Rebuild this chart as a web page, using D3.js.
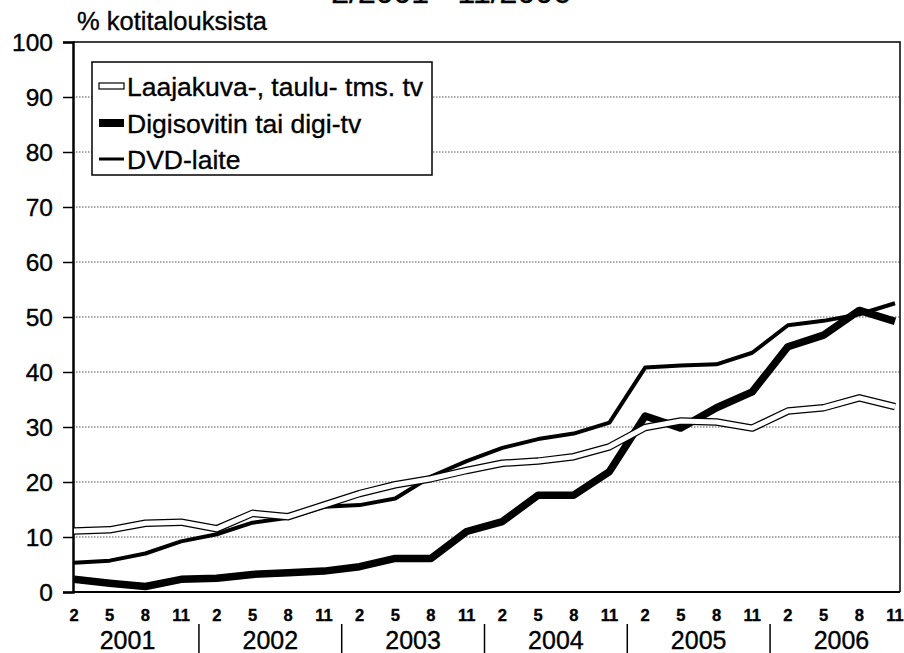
<!DOCTYPE html>
<html><head><meta charset="utf-8">
<script src="https://cdn.jsdelivr.net/npm/d3@7"></script>
<style>body{margin:0;background:#fff}svg{display:block}text{font-family:Arial,"Liberation Sans",sans-serif;fill:#000;stroke:#000;stroke-width:0.35px}</style>
</head><body>
<svg id="c" width="904" height="653"></svg>
<script>
const months = ["2","5","8","11"];
const years = ["2001","2002","2003","2004","2005","2006"];
const yTicks = [0,10,20,30,40,50,60,70,80,90,100];
const seriesNames = ["Laajakuva-, taulu- tms. tv","Digisovitin tai digi-tv","DVD-laite"];
const laajakuva = [11.1,11.3,12.5,12.7,11.5,14.3,13.7,15.8,17.9,19.5,20.6,22.1,23.4,23.8,24.6,26.4,29.9,31.1,30.9,29.8,32.9,33.5,35.3,33.7];
const digi = [2.3,1.6,1.0,2.3,2.5,3.2,3.5,3.8,4.6,6.1,6.1,11.0,12.8,17.6,17.6,21.9,32.0,29.8,33.5,36.4,44.6,46.7,51.2,49.2];
const dvd = [5.3,5.7,7.0,9.2,10.5,12.6,13.5,15.5,15.8,17.0,21.0,23.8,26.2,27.8,28.8,30.8,40.8,41.2,41.4,43.5,48.5,49.3,50.5,52.5];
const title = "2/2001 - 11/2006";
const yLabel = "% kotitalouksista";

const labels = [];
years.forEach(y => months.forEach(m => labels.push(m)));

const svg = d3.select("#c");
const L = 73, R = 900, T = 42, B = 592;
const x = d3.scaleLinear().domain([0, labels.length - 1]).range([74, 895]);
const y = d3.scaleLinear().domain([0, 100]).range([B, T]);

// title (cut off at top, as in the reference)
svg.append("text").attr("x", 451).attr("y", 3).attr("text-anchor", "middle")
  .style("font-size", "32px").text(title);
svg.append("text").attr("x", 77).attr("y", 30).style("font-size", "25.5px").text(yLabel);

// gridlines
svg.append("g").selectAll("line").data(yTicks.filter(d => d > 0 && d < 100)).join("line")
  .attr("x1", L).attr("x2", R).attr("y1", d => y(d)).attr("y2", d => y(d))
  .attr("stroke", "#555").attr("stroke-width", 1).attr("stroke-dasharray", "1.5,1.5");

// frame
svg.append("path").attr("d", `M${L},${T}H${R}V${B}`).attr("fill", "none").attr("stroke", "#000").attr("stroke-width", 1.5);

// y axis
const ya = svg.append("g").attr("transform", `translate(${L},0)`)
  .call(d3.axisLeft(y).tickValues(yTicks).tickSize(10).tickPadding(10));
ya.select(".domain").attr("stroke-width", 2.5);
ya.selectAll(".tick line").attr("stroke-width", 1.5);
ya.selectAll(".tick text").style("font-size", "24.5px").attr("font-family", null).attr("dy", "0.36em");

// x axis
svg.append("line").attr("x1", L).attr("x2", R).attr("y1", B).attr("y2", B).attr("stroke", "#000").attr("stroke-width", 2);
svg.append("g").selectAll("text").data(labels).join("text")
  .attr("x", (d, i) => x(i)).attr("y", 621).attr("text-anchor", "middle")
  .style("font-size", "16.5px").style("font-weight", "bold").text(d => d);
svg.append("g").selectAll("text").data(years).join("text")
  .attr("x", (d, i) => (x(i * 4) + x(i * 4 + 3)) / 2).attr("y", 649).attr("text-anchor", "middle")
  .style("font-size", "25px").text(d => d);
svg.append("g").selectAll("line").data(years.slice(1)).join("line")
  .attr("x1", (d, i) => (x(i * 4 + 3) + x(i * 4 + 4)) / 2).attr("x2", (d, i) => (x(i * 4 + 3) + x(i * 4 + 4)) / 2)
  .attr("y1", 624).attr("y2", 653).attr("stroke", "#000").attr("stroke-width", 1.5);

// lines
const line = d3.line().x((d, i) => x(i)).y(d => y(d));
const lg = svg.append("g").attr("fill", "none").attr("stroke-linejoin", "round");
lg.append("path").attr("d", line(digi)).attr("stroke", "#000").attr("stroke-width", 7.5);
lg.append("path").attr("d", line(dvd)).attr("stroke", "#000").attr("stroke-width", 4);
lg.append("path").attr("d", line(laajakuva)).attr("stroke", "#000").attr("stroke-width", 7.5);
lg.append("path").attr("d", line(laajakuva)).attr("stroke", "#fff").attr("stroke-width", 5);

// legend
const leg = svg.append("g");
leg.append("rect").attr("x", 92).attr("y", 62).attr("width", 340).attr("height", 113)
  .attr("fill", "#fff").attr("stroke", "#000").attr("stroke-width", 1.5);
const rowsY = [86, 123, 159];
leg.append("rect").attr("x", 99).attr("y", rowsY[0] - 3).attr("width", 25).attr("height", 6)
  .attr("fill", "#fff").attr("stroke", "#000").attr("stroke-width", 1.2);
leg.append("rect").attr("x", 99).attr("y", rowsY[1] - 4).attr("width", 25).attr("height", 8).attr("fill", "#000");
leg.append("rect").attr("x", 99).attr("y", rowsY[2] - 1.5).attr("width", 25).attr("height", 3).attr("fill", "#000");
leg.selectAll("text.l").data(seriesNames).join("text").attr("class", "l")
  .attr("x", 127).attr("y", (d, i) => rowsY[i]).attr("dy", "0.36em")
  .style("font-size", "26.5px").text(d => d);
</script>
</body></html>
